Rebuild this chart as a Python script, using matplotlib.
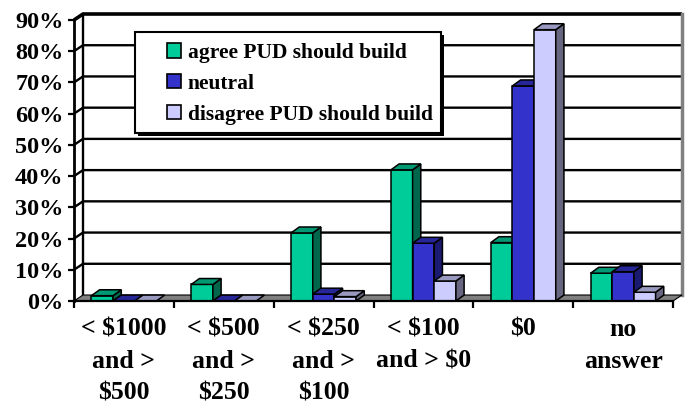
import matplotlib
matplotlib.use("Agg")
import matplotlib.pyplot as plt
from matplotlib.patches import Rectangle, Polygon, Patch

# --- data -------------------------------------------------------------
categories = ["< $1000\nand >\n$500", "< $500\nand >\n$250", "< $250\nand >\n$100",
              "< $100\nand > $0", "$0", "no\nanswer"]
series_names = ["agree PUD should build", "neutral", "disagree PUD should build"]
agree = [1.7, 5.3, 21.8, 42.0, 18.7, 8.9]
neutral = [0.0, 0.0, 2.2, 18.5, 68.9, 9.4]
disagree = [0.0, 0.0, 1.4, 6.4, 86.9, 2.8]
y_ticks = [0, 10, 20, 30, 40, 50, 60, 70, 80, 90]

# face colours: front, top, side
front_cols = ["#00CC99", "#3333CC", "#CCCCFF"]
top_cols = ["#009973", "#262699", "#9999C0"]
side_cols = ["#00664C", "#1A1A70", "#666680"]

FONT = "Liberation Serif"

W, H = 688, 404
fig = plt.figure(figsize=(W / 100, H / 100), dpi=100)
ax = fig.add_axes([74 / W, (H - 301) / H, 599 / W, 281 / H])
ax.set_xlim(0, 6)
ax.set_ylim(0, 90)
ax.set_facecolor("none")

# depth of the 3-D box (data units)
DX, DY = 0.09, 1.92
BDX, BDY = 0.082, 1.9

# back wall with gridlines
ax.add_patch(Rectangle((DX, DY), 6, 90, facecolor="white", edgecolor="none",
                       zorder=0, clip_on=False))
for v in y_ticks[1:-1]:
    ax.plot([0, DX, 6 + DX], [v, v + DY, v + DY], color="black", lw=1.7,
            zorder=1, clip_on=False, solid_capstyle="butt")
# top edge of the wall
ax.plot([0, DX, 6 + DX], [90, 90 + DY, 90 + DY], color="black", lw=2.6,
        zorder=1, clip_on=False, solid_capstyle="butt")
# left edge and right edge of the back wall
ax.plot([DX, DX], [DY, 90 + DY], color="black", lw=1.7, zorder=1, clip_on=False)
ax.plot([6 + DX, 6 + DX], [DY, 90 + DY], color="#808080", lw=2.5, zorder=1,
        clip_on=False)

# floor
ax.add_patch(Polygon([(0, 0), (6, 0), (6 + DX, DY), (DX, DY)], closed=True,
                     facecolor="#808080", edgecolor="black", lw=0.8, zorder=2,
                     clip_on=False))


def bar3d(x0, w, h, k, z):
    if h > 0:
        ax.add_patch(Rectangle((x0, 0), w, h, facecolor=front_cols[k],
                               edgecolor="black", lw=1.1, zorder=z, clip_on=False))
        ax.add_patch(Polygon([(x0 + w, 0), (x0 + w + BDX, BDY),
                              (x0 + w + BDX, h + BDY), (x0 + w, h)], closed=True,
                             facecolor=side_cols[k], edgecolor="black", lw=1.1,
                             zorder=z, clip_on=False))
    ax.add_patch(Polygon([(x0, h), (x0 + w, h), (x0 + w + BDX, h + BDY),
                          (x0 + BDX, h + BDY)], closed=True,
                         facecolor=top_cols[k], edgecolor="black", lw=1.1,
                         zorder=z, clip_on=False))


bw = 0.217
z = 3
for i in range(len(categories)):
    for k, vals in enumerate([agree, neutral, disagree]):
        x0 = i + 0.5 + (k - 1.5) * bw
        bar3d(x0, bw, vals[i], k, z)
        z += 0.01

# axes lines and ticks
for s in ["top", "right"]:
    ax.spines[s].set_visible(False)
ax.spines["left"].set_linewidth(2.0)
ax.spines["bottom"].set_linewidth(1.6)
ax.spines["left"].set_zorder(10)
ax.spines["bottom"].set_zorder(10)

ax.set_yticks(y_ticks)
ax.set_yticklabels([f"{v}%" for v in y_ticks])
ax.tick_params(axis="y", direction="out", length=4.5, width=1.6, pad=3.0)
ax.set_xticks(range(7))
ax.set_xticklabels([""] * 7)
ax.set_xticks([i + 0.5 for i in range(6)], minor=True)
ax.set_xticklabels(categories, minor=True)
ax.tick_params(axis="x", which="major", direction="out", length=5, width=1.6)
ax.tick_params(axis="x", which="minor", length=0, pad=12)
for lab in ax.get_yticklabels():
    lab.set_fontfamily(FONT)
    lab.set_fontweight("bold")
    lab.set_fontsize(17.5)
for lab in ax.get_xticklabels(minor=True):
    lab.set_fontfamily(FONT)
    lab.set_fontweight("bold")
    lab.set_fontsize(18.5)
    lab.set_linespacing(1.5)
    lab.set_verticalalignment("top")

# legend box
box_l, box_t, box_r, box_b = 135, 32, 441, 133
fig.patches.append(Rectangle((box_l / W + 2.5 / W, 1 - box_b / H - 2.5 / H),
                             (box_r - box_l) / W, (box_b - box_t) / H,
                             transform=fig.transFigure, facecolor="black",
                             edgecolor="none", zorder=20))
fig.patches.append(Rectangle((box_l / W, 1 - box_b / H),
                             (box_r - box_l) / W, (box_b - box_t) / H,
                             transform=fig.transFigure, facecolor="white",
                             edgecolor="black", lw=1.5, zorder=21))
handles = [Patch(facecolor=front_cols[k], edgecolor="black", lw=1.2)
           for k in range(3)]
leg = fig.legend(handles, series_names, loc="upper left",
                 bbox_to_anchor=(152 / W, 1 - 28 / H), frameon=False,
                 prop={"family": FONT, "weight": "bold", "size": 15.5},
                 handlelength=0.65, handleheight=0.65, handletextpad=0.3,
                 labelspacing=0.5, borderpad=0.2)
leg.set_zorder(22)

fig.savefig("out.png", dpi=100)
